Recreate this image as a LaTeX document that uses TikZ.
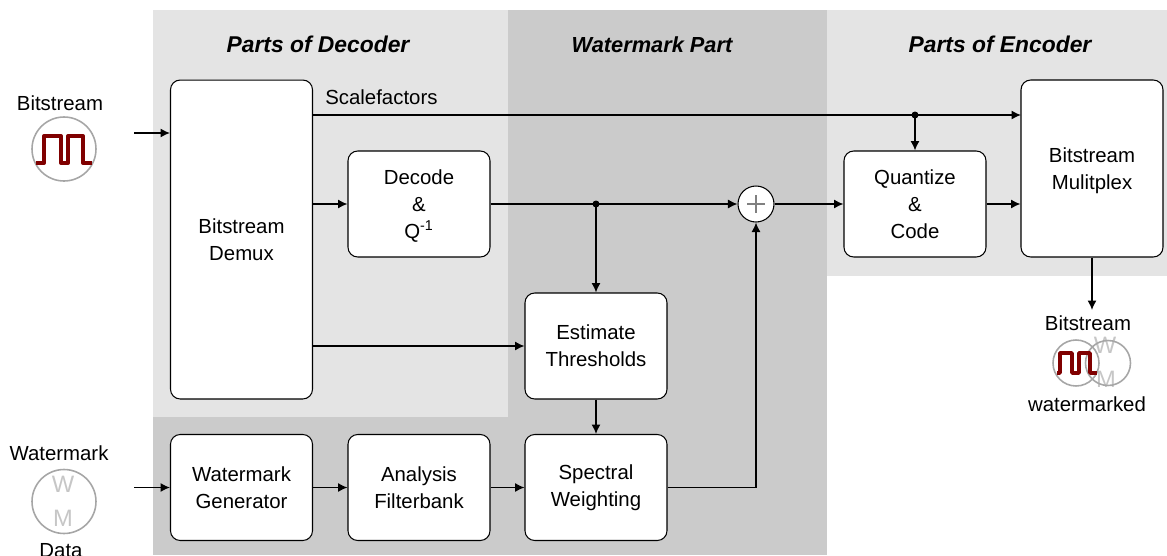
\documentclass[tikz,border=0pt]{standalone}
\usepackage{fontspec}
\setmainfont{Liberation Sans}
\usetikzlibrary{arrows.meta}
\usetikzlibrary{calc}
\definecolor{lightpart}{HTML}{E4E4E4}
\definecolor{darkpart}{HTML}{CBCBCB}
\definecolor{wavered}{HTML}{800000}
\definecolor{icongray}{HTML}{A6A6A6}
\definecolor{lettergray}{HTML}{C6C6C6}

\begin{document}
\begin{tikzpicture}[x=0.02cm,y=-0.02cm,font=\fontsize{11.6}{15.4}\selectfont]

\tikzset{block/.style = {shape=rectangle,draw,fill=white,rounded corners=5.5pt,line width=0.6pt,minimum width=2.84cm,minimum height=2.12cm,inner sep=0pt,align=center}}
\tikzset{title/.style = {font=\fontsize{13}{15}\selectfont\bfseries\itshape}}
\tikzset{label/.style = {inner sep=0pt,align=center}}
\tikzset{edge/.style = {-{Latex[length=5.4pt,width=5.2pt]},line width=0.85pt}}
\tikzset{dot/.style = {shape=circle,fill=black,inner sep=0pt,minimum size=0.14cm}}
\tikzset{icon/.style = {shape=circle,draw=icongray,line width=0.9pt,inner sep=0pt}}
\tikzset{wave/.style = {draw=wavered,line width=2.3pt,line join=round}}
\tikzset{letter/.style = {text=lettergray,inner sep=0pt,font=\fontsize{13.5}{15}\selectfont}}

\useasboundingbox (0,0) rectangle (1167,555);

%parts
\fill[lightpart] (153,10) rectangle (508,417);
\fill[darkpart] (508,10) rectangle (827,555);
\fill[darkpart] (153,417) rectangle (508,555);
\fill[lightpart] (827,10) rectangle (1167,276);

\node[title] (t1) at (318,44) {Parts of Decoder};
\node[title, font=\fontsize{12.4}{15}\selectfont\bfseries\itshape] (t2) at (652,44.5) {Watermark Part};
\node[title] (t3) at (1000,44) {Parts of Encoder};

%blocks
\node[block, minimum height=6.38cm] (demux) at (241.5,239.5) {Bitstream\\Demux};
\node[block] (decode) at (419,204) {Decode\\\&\\\smash{Q\textsuperscript{-1}}};
\node[block] (estimate) at (596,346) {Estimate\\Thresholds};
\node[block] (generator) at (241.5,487.5) {Watermark\\Generator};
\node[block] (analysis) at (419,487.5) {Analysis\\Filterbank};
\node[block] (weighting) at (596,487.5) {Spectral\\Weighting};
\node[block] (quantize) at (915,204) {Quantize\\\&\\Code};
\node[block, minimum height=3.54cm] (mux) at (1092,168.5) {Bitstream\\\smash{Mulitplex}};
\node[shape=circle,draw,fill=white,line width=0.6pt,minimum size=0.72cm,inner sep=0pt] (plus) at (756,204) {};
\draw[black!50,line width=0.7pt] ($(plus.center)+(-9,0)$) -- ($(plus.center)+(9,0)$);
\draw[black!50,line width=0.7pt] ($(plus.center)+(0,-9)$) -- ($(plus.center)+(0,9)$);

%labels
\node[label, anchor=west] (scale) at (325,97) {Scalefactors};
\node[label] (inbit) at (60,103) {Bitstream};
\node[label] (inwm) at (59,453) {Watermark};
\node[label] (indata) at (61,551) {Data};
\node[label] (outbit) at (1088,323) {Bitstream};
\node[label] (outwm) at (1087,404) {watermarked};

%icons
\node[icon, minimum size=1.28cm] (bit1) at (64,149) {};
\draw[wave] (36,163) -- (44,163) -- (44,136) -- (61,136) -- (61,163) -- (68,163) -- (68,136) -- (83,136) -- (83,163) -- (92,163);

\node[icon, minimum size=1.28cm] (wm1) at (64,501.5) {};
\node[letter] (w1) at (63,484) {W};
\node[letter] (m1) at (63,518) {M};

\node[letter] (w2) at (1105,345) {W};
\node[letter] (m2) at (1106,379) {M};
\node[icon, minimum size=0.9cm] (wm2) at (1108,363) {};
\node[icon, minimum size=0.92cm] (bit2) at (1076,363) {};
\draw[wave, line width=2pt] (1057,373) -- (1060,373) -- (1060,353) -- (1072,353) -- (1072,373) -- (1079,373) -- (1079,353) -- (1090,353) -- (1090,373) -- (1097,373);

%free ends
\coordinate (a1) at (134,133);
\coordinate (a2) at (134,487.5);
\coordinate (a3) at (1092,310);
\coordinate (s1) at (313,115);
\coordinate (s2) at (1021,115);
\coordinate (j1) at (915,115);
\coordinate (j2) at (596,204);
\coordinate (e1) at (313,346);

%edges
\draw[edge] (a1) to (a1 -| demux.west);
\draw[edge] (a2) to (generator.west);
\draw[edge] (s1) to (s2);
\draw[edge] (j1) to (quantize.north);
\node[dot] (d1) at (j1) {};
\draw[edge] (decode.west -| demux.east) to (decode.west);
\draw[edge] (decode.east) to (plus.west);
\draw[edge] (j2) to (estimate.north);
\node[dot] (d2) at (j2) {};
\draw[edge] (e1) to (estimate.west);
\draw[edge] (estimate.south) to (weighting.north);
\draw[edge] (generator.east) to (analysis.west);
\draw[edge] (analysis.east) to (weighting.west);
\draw[edge] (weighting.east) -| (plus.south);
\draw[edge] (plus.east) to (quantize.west);
\draw[edge] (quantize.east) to (quantize.east -| mux.west);
\draw[edge] (mux.south) to (a3);

\end{tikzpicture}
\end{document}
